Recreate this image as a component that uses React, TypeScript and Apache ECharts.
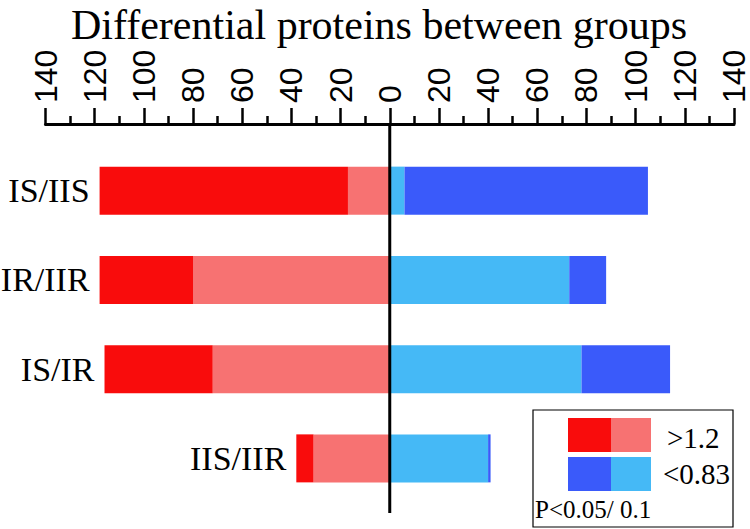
import { useEffect, useRef } from "react";
import * as echarts from "echarts";

const categories = ["IS/IIS", "IR/IIR", "IS/IR", "IIS/IIR"];
// up-regulated (>1.2), drawn to the left
const upP05 = [101, 38, 44, 7];
const upP10 = [17, 80, 72, 31];
// down-regulated (<0.83), drawn to the right
const downP10 = [6, 73, 78, 40];
const downP05 = [99, 15, 36, 1];

const axisMax = 140;
const axisStep = 20;

const DARK_RED = "#f90c0c";
const LIGHT_RED = "#f77272";
const DARK_BLUE = "#3a5afa";
const LIGHT_BLUE = "#45b9f6";

const SERIF = "'Liberation Serif', 'Times New Roman', serif";
const SANS = "'Liberation Sans', Arial, sans-serif";

export default function App() {
  const chartRef = useRef<HTMLDivElement>(null);

  useEffect(() => {
    if (!chartRef.current) return;
    const chart = echarts.init(chartRef.current, null, { renderer: "svg" });

    const legendGraphic = [
      {
        type: "rect",
        shape: { x: 533, y: 410, width: 200, height: 117 },
        style: { fill: "none", stroke: "#000", lineWidth: 1.2 },
      },
      { type: "rect", shape: { x: 568, y: 418, width: 43, height: 34 }, style: { fill: DARK_RED } },
      { type: "rect", shape: { x: 611, y: 418, width: 40, height: 34 }, style: { fill: LIGHT_RED } },
      { type: "rect", shape: { x: 568, y: 457, width: 43, height: 34 }, style: { fill: DARK_BLUE } },
      { type: "rect", shape: { x: 611, y: 457, width: 40, height: 34 }, style: { fill: LIGHT_BLUE } },
      {
        type: "text",
        x: 667,
        y: 438,
        style: { text: ">1.2", font: `29px ${SERIF}`, fill: "#000", verticalAlign: "middle" },
      },
      {
        type: "text",
        x: 663,
        y: 474,
        style: { text: "<0.83", font: `29px ${SERIF}`, fill: "#000", verticalAlign: "middle" },
      },
      {
        type: "text",
        x: 535,
        y: 509,
        style: { text: "P<0.05/ 0.1", font: `25px ${SERIF}`, fill: "#000", verticalAlign: "middle" },
      },
    ];

    chart.setOption({
      animation: false,
      title: {
        text: "Differential proteins between groups",
        left: 66,
        top: -1,
        textStyle: { fontFamily: SERIF, fontSize: 42, fontWeight: "normal", color: "#000" },
      },
      grid: { left: 45.5, right: 12.5, top: 146, bottom: 26, containLabel: false },
      xAxis: {
        type: "value",
        position: "top",
        offset: 22,
        min: -axisMax,
        max: axisMax,
        interval: axisStep,
        axisLine: { show: true, lineStyle: { color: "#000", width: 3 } },
        axisTick: { show: true, length: 16, lineStyle: { color: "#000", width: 2.5 } },
        minorTick: { show: true, splitNumber: 2, length: 8, lineStyle: { color: "#000", width: 2.5 } },
        splitLine: { show: false },
        axisLabel: {
          rotate: -90,
          margin: 21,
          color: "#000",
          fontFamily: SANS,
          fontSize: 32,
          formatter: (v: number) => String(Math.abs(v)),
        },
      },
      yAxis: {
        type: "category",
        inverse: true,
        data: categories,
        axisLine: { show: false },
        axisTick: { show: false },
        axisLabel: { show: false },
      },
      series: [
        {
          type: "bar",
          stack: "total",
          barWidth: 48,
          data: upP10.map((v) => -v),
          itemStyle: { color: LIGHT_RED },
        },
        {
          type: "bar",
          stack: "total",
          barWidth: 48,
          data: upP05.map((v) => -v),
          itemStyle: { color: DARK_RED },
          label: {
            show: true,
            position: "left",
            distance: 10,
            formatter: (p: any) => p.name,
            color: "#000",
            fontFamily: SERIF,
            fontSize: 34,
          },
        },
        {
          type: "bar",
          stack: "total",
          barWidth: 48,
          data: downP10,
          itemStyle: { color: LIGHT_BLUE },
        },
        {
          type: "bar",
          stack: "total",
          barWidth: 48,
          data: downP05,
          itemStyle: { color: DARK_BLUE },
        },
      ],
      graphic: legendGraphic,
    });

    // zero line running from the top axis down past the last bar
    const x0 = chart.convertToPixel({ xAxisIndex: 0 }, 0) as number;
    chart.setOption({
      graphic: [
        ...legendGraphic,
        {
          type: "line",
          z: 100,
          shape: { x1: x0, y1: 124, x2: x0, y2: 513 },
          style: { stroke: "#000", lineWidth: 3 },
        },
      ],
    });

    return () => {
      chart.dispose();
    };
  }, []);

  return (
    <div
      ref={chartRef}
      style={{ position: "fixed", left: 0, top: 0, width: 750, height: 529, background: "#fff" }}
    />
  );
}
